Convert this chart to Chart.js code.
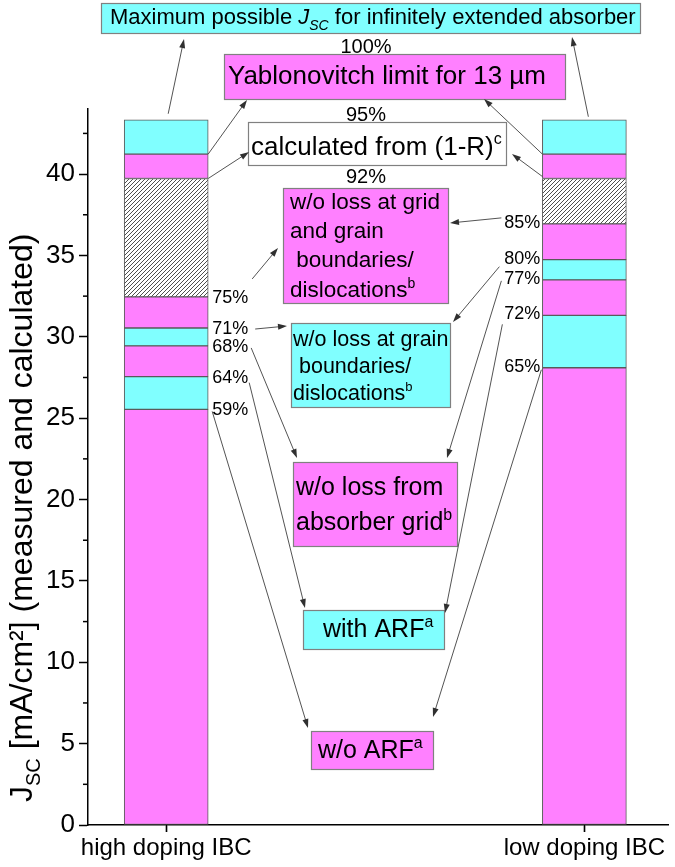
<!DOCTYPE html>
<html>
<head>
<meta charset="utf-8">
<script src="https://cdn.jsdelivr.net/npm/chart.js@4.4.1/dist/chart.umd.min.js"></script>
<style>
  html, body { margin: 0; padding: 0; background: #fff; }
</style>
</head>
<body>
<canvas id="chart" width="675" height="867"></canvas>
<script>
const categories = ['high doping IBC', 'low doping IBC'];

// cumulative J_SC levels [mA/cm²], bottom to top, per category
const woARF          = [25.54, 28.10];
const withARF        = [27.55, 31.32];
const woAbsorberGrid = [29.44, 33.50];
const woGrainBound   = [30.54, 34.74];
const woGridAndGrain = [32.45, 36.94];
const calcFromR      = [39.73, 39.73];
const yablonovitch   = [41.23, 41.23];
const maxPossible    = [43.34, 43.34];

const highPct = ['59%', '64%', '68%', '71%', '75%'];
const lowPct  = ['65%', '72%', '77%', '80%', '85%'];
const topPct  = ['92%', '95%', '100%'];

const yTicks = [0, 5, 10, 15, 20, 25, 30, 35, 40];

const FONT = "'Liberation Sans', Arial, sans-serif";
const MAGENTA = '#ff80ff';
const CYAN = '#80ffff';

const canvas = document.getElementById('chart');
const ctx0 = canvas.getContext('2d');

function makeHatch() {
    const c = document.createElement('canvas');
    c.width = 4; c.height = 4;
    const g = c.getContext('2d');
    g.fillStyle = '#ffffff';
    g.fillRect(0, 0, 4, 4);
    g.strokeStyle = '#3a3a3a';
    g.lineWidth = 0.9;
    g.beginPath();
    g.moveTo(0, 4); g.lineTo(4, 0);
    g.moveTo(-1, 1); g.lineTo(1, -1);
    g.moveTo(3, 5); g.lineTo(5, 3);
    g.stroke();
    return ctx0.createPattern(c, 'repeat');
}
const HATCH = makeHatch();

// build floating segments from the level arrays
const levels = [woARF, withARF, woAbsorberGrid, woGrainBound, woGridAndGrain, calcFromR, yablonovitch, maxPossible];
const segColors = [MAGENTA, CYAN, MAGENTA, CYAN, MAGENTA, HATCH, MAGENTA, CYAN];
const datasets = levels.map((lvl, k) => ({
    data: lvl.map((v, i) => ({ x: i, y: [k === 0 ? 0 : levels[k - 1][i], v] })),
    backgroundColor: segColors[k],
    borderColor: '#5a5a5a',
    borderWidth: 1,
    borderSkipped: false,
    barThickness: 84,
    grouped: false,
}));

// draws text made of parts: [text, kind] kind: '' | 'sup' | 'sub' | 'it' | 'subit'
function drawRich(ctx, parts, x, y, size, align) {
    const fontOf = (kind) => {
        const small = kind === 'sup' || kind === 'sub' || kind === 'subit';
        const s = small ? Math.round(size * 0.62) : size;
        const it = kind === 'it' || kind === 'subit' ? 'italic ' : '';
        return `${it}${s}px ${FONT}`;
    };
    let total = 0;
    parts.forEach(([t, k]) => { ctx.font = fontOf(k); total += ctx.measureText(t).width; });
    let cx = align === 'center' ? x - total / 2 : x;
    ctx.textAlign = 'left';
    ctx.textBaseline = 'alphabetic';
    parts.forEach(([t, k]) => {
        ctx.font = fontOf(k);
        let dy = 0;
        if (k === 'sup') dy = -size * 0.42;
        if (k === 'sub' || k === 'subit') dy = size * 0.25;
        ctx.fillText(t, cx, y + dy);
        cx += ctx.measureText(t).width;
    });
}

const boxes = [
    { x0: 101, y0: 3, x1: 640, y1: 33, fill: CYAN, size: 22,
      lines: [[110, 24, [['Maximum possible ', ''], ['J', 'it'], ['SC', 'subit'], [' for infinitely extended absorber', '']]]] },
    { x0: 224, y0: 54, x1: 565, y1: 99, fill: MAGENTA, size: 26,
      lines: [[228, 84, [['Yablonovitch limit for 13 µm', '']]]] },
    { x0: 248, y0: 122, x1: 506, y1: 165, fill: '#ffffff', size: 26,
      lines: [[251, 155, [['calculated from (1-R)', ''], ['c', 'sup']]]] },
    { x0: 283, y0: 188, x1: 448, y1: 303, fill: MAGENTA, size: 22.5,
      lines: [[290, 209, [['w/o loss at grid', '']]],
              [290, 238, [['and grain', '']]],
              [290, 267, [[' boundaries/', '']]],
              [290, 297, [['dislocations', ''], ['b', 'sup']]]] },
    { x0: 291, y0: 323, x1: 450, y1: 407, fill: CYAN, size: 21.5,
      lines: [[293, 346, [['w/o loss at grain', '']]],
              [293, 373, [[' boundaries/', '']]],
              [293, 400, [['dislocations', ''], ['b', 'sup']]]] },
    { x0: 293, y0: 462, x1: 457, y1: 546, fill: MAGENTA, size: 25,
      lines: [[296, 495, [['w/o loss from', '']]],
              [296, 530, [['absorber grid', ''], ['b', 'sup']]]] },
    { x0: 303, y0: 610, x1: 444, y1: 649, fill: CYAN, size: 25,
      lines: [[323, 637, [['with ARF', ''], ['a', 'sup']]]] },
    { x0: 311, y0: 731, x1: 433, y1: 769, fill: MAGENTA, size: 25,
      lines: [[318, 758, [['w/o ARF', ''], ['a', 'sup']]]] },
];

// centre x and baselines of the percent labels between the top boxes
const topPctPos = [[366, 183], [366, 121], [366, 53]];

function arrow(ctx, x1, y1, x2, y2) {
    const a = Math.atan2(y2 - y1, x2 - x1);
    const hl = 9, hw = 3;
    ctx.beginPath();
    ctx.moveTo(x1, y1);
    ctx.lineTo(x2 - Math.cos(a) * hl * 0.8, y2 - Math.sin(a) * hl * 0.8);
    ctx.stroke();
    ctx.beginPath();
    ctx.moveTo(x2, y2);
    ctx.lineTo(x2 - hl * Math.cos(a) + hw * Math.sin(a), y2 - hl * Math.sin(a) - hw * Math.cos(a));
    ctx.lineTo(x2 - hl * Math.cos(a) - hw * Math.sin(a), y2 - hl * Math.sin(a) + hw * Math.cos(a));
    ctx.closePath();
    ctx.fill();
}

const annotations = {
    id: 'annotations',
    afterDraw(chart) {
        const ctx = chart.ctx;
        const y = chart.scales.y;
        const x = chart.scales.x;
        const L = (v) => y.getPixelForValue(v);
        const barL = chart.getDatasetMeta(0).data[0];
        const barR = chart.getDatasetMeta(0).data[1];
        const lc = barL.x, lr = barL.x + barL.width / 2;
        const rc = barR.x, rl = barR.x - barR.width / 2;
        ctx.save();

        // minor ticks on y axis
        const ax = chart.chartArea.left;
        ctx.strokeStyle = '#000';
        ctx.lineWidth = 1.5;
        for (let v = 2.5; v < 44; v += 5) {
            ctx.beginPath();
            ctx.moveTo(ax - 5, L(v));
            ctx.lineTo(ax, L(v));
            ctx.stroke();
        }
        // category ticks on x axis
        const ab = chart.chartArea.bottom;
        ctx.lineWidth = 1.2;
        categories.forEach((c, i) => {
            const px = Math.round(x.getPixelForValue(i)) + 0.5;
            ctx.beginPath();
            ctx.moveTo(px, ab);
            ctx.lineTo(px, ab + 7);
            ctx.stroke();
        });

        // y axis title
        ctx.save();
        ctx.translate(32, 802);
        ctx.rotate(-Math.PI / 2);
        ctx.fillStyle = '#000';
        drawRich(ctx, [['J', ''], ['SC', 'sub'], [' [mA/cm²] (measured and calculated)', '']], 0, 0, 32, 'left');
        ctx.restore();

        // boxes
        boxes.forEach(b => {
            ctx.fillStyle = b.fill;
            ctx.fillRect(b.x0, b.y0, b.x1 - b.x0, b.y1 - b.y0);
            ctx.strokeStyle = '#808080';
            ctx.lineWidth = 1.2;
            ctx.strokeRect(b.x0 + 0.5, b.y0 + 0.5, b.x1 - b.x0, b.y1 - b.y0);
            ctx.fillStyle = '#000';
            b.lines.forEach(([lx, by, parts]) => drawRich(ctx, parts, lx, by, b.size, 'left'));
        });

        // percent labels
        ctx.fillStyle = '#000';
        ctx.font = `18px ${FONT}`;
        ctx.textBaseline = 'middle';
        const lowLevels = [woARF, withARF, woAbsorberGrid, woGrainBound, woGridAndGrain];
        ctx.textAlign = 'left';
        highPct.forEach((t, k) => ctx.fillText(t, lr + 4, L(lowLevels[k][0]) + 1));
        ctx.textAlign = 'right';
        lowPct.forEach((t, k) => ctx.fillText(t, rl - 2, L(lowLevels[k][1]) - 1));
        topPct.forEach((t, k) => drawRich(ctx, [[t, '']], topPctPos[k][0], topPctPos[k][1], 20, 'center'));

        // arrows
        ctx.strokeStyle = '#404040';
        ctx.fillStyle = '#303030';
        ctx.lineWidth = 0.9;
        const arrows = [
            [lc + 2, L(maxPossible[0]) - 6, 184, 39],
            [lr, L(yablonovitch[0]), 247, 100],
            [lr, L(calcFromR[0]), 249, 152],
            [lr + 44, L(woGridAndGrain[0]) - 18, 278, 248],
            [lr + 47, L(woGrainBound[0]) + 1, 287, 326],
            [lr + 43, L(woAbsorberGrid[0]) + 2, 297, 458],
            [lr + 41, L(withARF[0]) + 6, 305, 608],
            [lr + 4, L(woARF[0]) + 2, 308, 728],
            [rc + 4, L(maxPossible[1]) - 3, 572, 37],
            [rl, L(yablonovitch[1]), 484, 99],
            [rl, L(calcFromR[1]) - 2, 512, 154],
            [rl - 41, L(woGridAndGrain[1]) - 6, 450, 223],
            [rl - 43, L(woGrainBound[1]) + 7, 453, 322],
            [rl - 41, L(woAbsorberGrid[1]) + 1, 447, 458],
            [rl - 40, L(withARF[1]) + 9, 445, 613],
            [rl - 1, L(woARF[1]) + 2, 433, 717],
        ];
        arrows.forEach(a => arrow(ctx, a[0], a[1], a[2], a[3]));
        ctx.restore();
    }
};

new Chart(canvas, {
    type: 'bar',
    data: { datasets: datasets },
    options: {
        responsive: false,
        animation: false,
        devicePixelRatio: 1,
        layout: { padding: { top: 109, right: 7, left: 0, bottom: 0 } },
        plugins: {
            legend: { display: false },
            tooltip: { enabled: false },
        },
        scales: {
            x: {
                type: 'linear',
                min: -0.187,
                max: 1.2,
                offset: false,
                afterBuildTicks: (scale) => { scale.ticks = categories.map((c, i) => ({ value: i })); },
                afterFit: (scale) => { scale.height = 42; },
                ticks: {
                    callback: (v) => categories[Math.round(v)],
                    font: { size: 24, family: FONT },
                    color: '#000',
                    padding: 2,
                    maxRotation: 0,
                    autoSkip: false,
                },
                grid: { offset: false, drawOnChartArea: false, drawTicks: true, tickLength: 7, color: '#000', tickWidth: 1.5 },
                border: { display: true, color: '#000', width: 1.5 },
            },
            y: {
                min: 0,
                max: 44,
                afterBuildTicks: (scale) => { scale.ticks = yTicks.map(v => ({ value: v })); },
                afterFit: (scale) => { scale.width = 88; },
                ticks: {
                    font: { size: 26, family: FONT },
                    color: '#000',
                    padding: 4,
                },
                grid: { drawOnChartArea: false, drawTicks: true, tickLength: 9, color: '#000', tickWidth: 1.5 },
                border: { display: true, color: '#000', width: 1.5 },
            }
        }
    },
    plugins: [annotations]
});
</script>
</body>
</html>
